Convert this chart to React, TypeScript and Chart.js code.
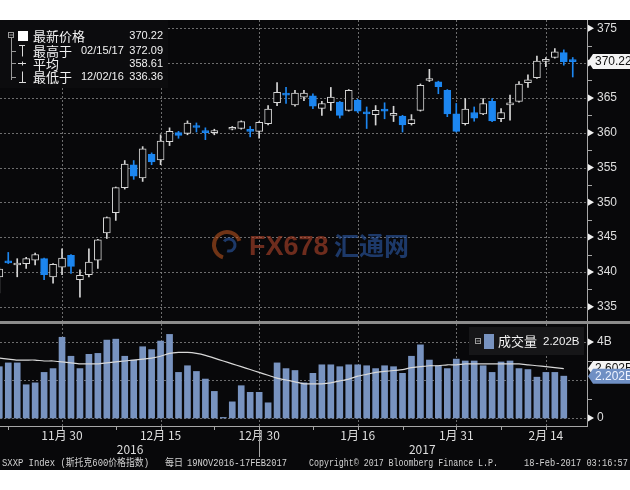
import React, { useEffect, useRef } from 'react';
import { Chart, registerables } from 'chart.js';

Chart.register(...registerables);

// ---------- data ----------
const dates = [
  '2016-11-21', '2016-11-22', '2016-11-23', '2016-11-24', '2016-11-25', '2016-11-28', '2016-11-29', '2016-11-30',
  '2016-12-01', '2016-12-02', '2016-12-05', '2016-12-06', '2016-12-07', '2016-12-08', '2016-12-09', '2016-12-12',
  '2016-12-13', '2016-12-14', '2016-12-15', '2016-12-16', '2016-12-19', '2016-12-20', '2016-12-21', '2016-12-22',
  '2016-12-23', '2016-12-26', '2016-12-27', '2016-12-28', '2016-12-29', '2016-12-30', '2017-01-02', '2017-01-03',
  '2017-01-04', '2017-01-05', '2017-01-06', '2017-01-09', '2017-01-10', '2017-01-11', '2017-01-12', '2017-01-13',
  '2017-01-16', '2017-01-17', '2017-01-18', '2017-01-19', '2017-01-20', '2017-01-23', '2017-01-24', '2017-01-25',
  '2017-01-26', '2017-01-27', '2017-01-30', '2017-01-31', '2017-02-01', '2017-02-02', '2017-02-03', '2017-02-06',
  '2017-02-07', '2017-02-08', '2017-02-09', '2017-02-10', '2017-02-13', '2017-02-14', '2017-02-15', '2017-02-16',
  '2017-02-17',
];

const openP: (number | null)[] = [
  339.3, 341.5, 341.0, 341.2, 341.7, 341.9, 339.3, 340.7, 342.4, 338.9,
  339.6, 341.7, 345.6, 348.5, 352.1, 355.4, 353.5, 356.9, 356.1, 358.7,
  360.0, 359.9, 360.9, 360.2, 360.0, null, 360.5, 360.6, 360.4, 360.2,
  361.3, 364.3, 365.6, 364.0, 365.1, 365.3, 363.5, 364.3, 364.4, 363.2,
  364.7, 362.9, 362.6, 363.4, 362.5, 362.4, 361.3, 363.2, 367.5, 367.3,
  366.1, 362.7, 361.3, 362.9, 362.7, 364.5, 362.0, 364.0, 364.5, 367.2,
  367.9, 370.25, 370.8, 371.5, 370.35,
];
const highP: (number | null)[] = [
  340.6, 342.8, 341.9, 342.1, 342.7, 342.0, 341.2, 343.3, 342.5, 340.3,
  343.3, 344.7, 347.9, 352.2, 356.0, 356.0, 358.0, 357.1, 359.7, 360.7,
  360.2, 361.7, 361.4, 360.7, 360.5, null, 360.9, 361.7, 360.9, 361.6,
  363.9, 367.2, 366.5, 366.1, 366.1, 365.6, 364.5, 366.5, 364.5, 366.2,
  364.8, 363.7, 363.9, 364.3, 363.8, 362.5, 362.6, 367.0, 369.1, 367.4,
  366.2, 364.2, 364.9, 363.7, 364.9, 364.9, 363.45, 365.4, 367.35, 368.3,
  371.0, 370.8, 372.09, 371.9, 370.8,
];
const lowP: (number | null)[] = [
  337.0, 341.2, 339.3, 340.5, 341.0, 338.9, 338.4, 339.6, 339.8, 336.36,
  339.3, 340.5, 344.8, 347.4, 351.9, 353.3, 353.0, 355.4, 355.4, 358.15,
  359.2, 359.7, 360.1, 359.0, 359.7, null, 360.4, 360.5, 359.4, 359.2,
  361.1, 363.9, 364.2, 363.8, 364.6, 363.45, 362.5, 363.2, 362.1, 363.1,
  362.9, 360.6, 361.1, 362.0, 361.6, 360.1, 361.1, 363.1, 367.35, 365.6,
  362.3, 360.1, 361.1, 361.65, 362.6, 361.6, 361.6, 361.8, 364.4, 366.5,
  367.8, 369.5, 370.7, 369.7, 368.0,
];
const closeP: (number | null)[] = [
  340.4, 341.3, 341.1, 341.9, 342.5, 339.6, 341.1, 342.0, 340.8, 339.5,
  341.4, 344.6, 347.8, 352.1, 355.5, 353.75, 357.7, 355.8, 358.8, 360.2,
  359.6, 361.4, 360.75, 360.0, 360.1, null, 360.6, 361.6, 360.2, 361.5,
  363.4, 365.8, 365.4, 365.7, 365.7, 363.8, 364.2, 365.1, 362.5, 366.1,
  363.1, 362.7, 363.2, 363.1, 362.7, 361.1, 361.9, 366.8, 367.6, 366.6,
  362.7, 360.2, 363.4, 362.1, 364.2, 361.7, 362.9, 364.1, 367.0, 367.6,
  370.3, 370.4, 371.6, 370.2, 370.22,
];

// volume in billions (no bar drawn for the last session)
const volume: (number | null)[] = [
  2.7, 2.9, 2.9, 1.75, 1.85, 2.4, 2.6, 4.25, 3.25, 2.6,
  3.35, 3.4, 4.1, 4.15, 3.25, 3.05, 3.75, 3.6, 4.05, 4.4,
  2.4, 2.75, 2.45, 2.05, 1.4, 0.03, 0.85, 1.7, 1.35, 1.35,
  0.8, 2.9, 2.6, 2.5, 1.85, 2.35, 2.8, 2.8, 2.7, 2.8,
  2.8, 2.75, 2.6, 2.75, 2.7, 2.35, 3.25, 3.85, 3.05, 2.75,
  2.6, 3.1, 3.0, 3.0, 2.75, 2.4, 2.95, 3.0, 2.6, 2.55,
  2.15, 2.4, 2.4, 2.202, null,
];
const volumeMA: (number | null)[] = [
  3.15, 3.1, 3.05, 3.05, 3.05, 3.0, 3.0, 2.95, 2.9, 2.85,
  2.85, 2.85, 2.9, 2.95, 3.0, 3.05, 3.1, 3.15, 3.25, 3.4,
  3.45, 3.45, 3.4, 3.3, 3.15, 3.0, 2.85, 2.7, 2.55, 2.4,
  2.25, 2.1, 2.0, 1.9, 1.8, 1.8, 1.8, 1.85, 1.95, 2.05,
  2.2, 2.3, 2.4, 2.45, 2.5, 2.55, 2.65, 2.7, 2.75, 2.75,
  2.8, 2.8, 2.85, 2.85, 2.85, 2.85, 2.85, 2.85, 2.85, 2.8,
  2.75, 2.7, 2.65, 2.602, null,
];

const xTickIdx = [7, 18, 29, 40, 51, 61];
const xTickLabels = ['11月 30', '12月 15', '12月 30', '1月 16', '1月 31', '2月 14'];
const xMinorIdx = [1, 13, 24, 35, 45, 56];
const yearLabels = ['2016', '2017'];
const yearPos = [14.6, 47.2];
const yearBoundaryIdx = 29;

const priceTicks = [335, 340, 345, 350, 355, 360, 365, 370, 375];
const priceMinor = [337.5, 342.5, 347.5, 352.5, 357.5, 362.5, 367.5, 372.5];
const volTicks = [0, 2, 4];
const volTickLabels = ['0', '', '4B'];
const volMinor = [1, 3];

const legendRows = [
  { name: '最新价格', date: '', value: '370.22' },
  { name: '最高于', date: '02/15/17', value: '372.09' },
  { name: '平均', date: '', value: '358.61' },
  { name: '最低于', date: '12/02/16', value: '336.36' },
];
const lastPrice = 370.22;
const lastVolume = 2.202;
const lastMA = 2.602;
const lastVolumeLabel = '2.202B';
const lastMALabel = '2.602B';
const volLegendName = '成交量';
const footerTexts = [
  'SXXP Index (斯托克600价格指数)',
  '每日',
  '19NOV2016-17FEB2017',
  'Copyright© 2017 Bloomberg Finance L.P.',
  '18-Feb-2017 03:16:57',
];

// ---------- style ----------
const X_MIN = 0.078;
const X_MAX = 65.59;
const BG = '#08080a';
const BLUE = '#1c86f0';
const UPC = '#d6d6d6';
const GRID = 'rgba(135,135,135,0.8)';
const AXIS = '#a6a6a6';
const TXT = '#dedede';
const VOLC = '#7893c0';
const CJK = '"Noto Sans CJK SC", sans-serif';
const SANS = '"Liberation Sans", Arial, sans-serif';
const MONO = '"Liberation Mono", "Noto Sans CJK SC", monospace';

function hLine(ctx: CanvasRenderingContext2D, x1: number, x2: number, y: number) {
  ctx.beginPath();
  ctx.moveTo(x1, y);
  ctx.lineTo(x2, y);
  ctx.stroke();
}
function vLine(ctx: CanvasRenderingContext2D, x: number, y1: number, y2: number) {
  ctx.beginPath();
  ctx.moveTo(x, y1);
  ctx.lineTo(x, y2);
  ctx.stroke();
}
function arrowTick(ctx: CanvasRenderingContext2D, x: number, y: number) {
  ctx.beginPath();
  ctx.moveTo(x + 1, y - 3.5);
  ctx.lineTo(x + 7, y);
  ctx.lineTo(x + 1, y + 3.5);
  ctx.closePath();
  ctx.fill();
}
function tagBox(ctx: CanvasRenderingContext2D, x: number, y: number, fill: string, textColor: string, text: string) {
  ctx.beginPath();
  ctx.moveTo(x, y);
  ctx.lineTo(x + 5, y - 7.5);
  ctx.lineTo(630, y - 7.5);
  ctx.lineTo(630, y + 7.5);
  ctx.lineTo(x + 5, y + 7.5);
  ctx.closePath();
  ctx.fillStyle = fill;
  ctx.fill();
  ctx.fillStyle = textColor;
  ctx.font = `12px ${SANS}`;
  ctx.textBaseline = 'middle';
  ctx.textAlign = 'left';
  ctx.fillText(text, x + 7, y + 0.5);
}

const pricePlugin = {
  id: 'priceDeco',
  beforeDraw(chart: any) {
    const { ctx, chartArea: a, scales } = chart;
    ctx.save();
    ctx.fillStyle = BG;
    ctx.fillRect(0, 0, chart.width, chart.height);
    ctx.strokeStyle = GRID;
    ctx.lineWidth = 1;
    ctx.setLineDash([2, 2]);
    for (const v of priceTicks) {
      const y = Math.round(scales.y.getPixelForValue(v)) + 0.5;
      hLine(ctx, a.left, a.right, y);
    }
    for (const v of xTickIdx) {
      const x = Math.round(scales.x.getPixelForValue(v)) + 0.5;
      vLine(ctx, x, a.top, a.bottom);
    }
    ctx.restore();
  },
  afterDraw(chart: any) {
    const { ctx, chartArea: a, scales } = chart;
    ctx.save();
    ctx.strokeStyle = AXIS;
    ctx.lineWidth = 1;
    vLine(ctx, a.right + 0.5, 0, chart.height);
    ctx.fillStyle = '#f0f0f0';
    for (const v of priceTicks) arrowTick(ctx, a.right, scales.y.getPixelForValue(v));
    for (const v of priceMinor) {
      const y = Math.round(scales.y.getPixelForValue(v)) + 0.5;
      hLine(ctx, a.right, a.right + 5, y);
    }
    tagBox(ctx, a.right + 1, scales.y.getPixelForValue(lastPrice), '#f4f4f4', '#111', lastPrice.toFixed(2));

    // watermark
    ctx.globalAlpha = 0.6;
    ctx.lineWidth = 4;
    ctx.strokeStyle = '#b5521e';
    ctx.beginPath();
    ctx.arc(227, 225, 13, Math.PI * 0.6, Math.PI * 1.9);
    ctx.stroke();
    ctx.strokeStyle = '#2b5aa8';
    ctx.lineWidth = 3;
    ctx.beginPath();
    ctx.arc(229, 225, 6, Math.PI * 1.2, Math.PI * 2.6);
    ctx.stroke();
    ctx.font = `bold 27px ${SANS}`;
    ctx.textBaseline = 'alphabetic';
    ctx.textAlign = 'left';
    ctx.fillStyle = '#b2452a';
    ctx.fillText('FX678', 249, 235);
    ctx.font = `bold 25px ${CJK}`;
    ctx.fillStyle = '#2b5aa8';
    ctx.fillText('汇通网', 334, 235);
    ctx.globalAlpha = 1;

    // legend box
    ctx.fillStyle = '#0c0c0e';
    ctx.fillRect(0, 0, 168, 68);
    const rowsY = [15.8, 30.5, 43.3, 56.7];
    ctx.strokeStyle = '#9a9a9a';
    ctx.lineWidth = 1;
    ctx.strokeRect(8.5, 12.5, 5, 5);
    hLine(ctx, 9.5, 13, 15);
    vLine(ctx, 11.5, 18, 60);
    for (let r = 1; r < 4; r++) hLine(ctx, 11.5, 16, Math.round(rowsY[r]) + 0.5);
    ctx.fillStyle = '#ffffff';
    ctx.fillRect(18, 11, 10, 10);
    ctx.strokeStyle = '#dcdcdc';
    const ty = Math.round(rowsY[1]) + 0.5;
    hLine(ctx, 19, 25, ty - 6);
    vLine(ctx, 22.5, ty - 6, ty + 5);
    const py = Math.round(rowsY[2]) + 0.5;
    hLine(ctx, 18, 26, py);
    vLine(ctx, 22.5, py - 2, py + 2);
    const ly = Math.round(rowsY[3]) + 0.5;
    vLine(ctx, 22.5, ly - 6, ly + 5);
    hLine(ctx, 19, 26, ly + 5);
    ctx.textBaseline = 'middle';
    legendRows.forEach((row, r) => {
      ctx.fillStyle = '#f2f2f2';
      ctx.textAlign = 'left';
      ctx.font = `13px ${CJK}`;
      ctx.fillText(row.name, 33, rowsY[r] + 0.5);
      ctx.font = `11px ${SANS}`;
      if (row.date) ctx.fillText(row.date, 81, rowsY[r] + 0.5);
      ctx.textAlign = 'right';
      ctx.fillText(row.value, 163, rowsY[r] + 0.5);
    });
    ctx.restore();
  },
};

const volPlugin = {
  id: 'volDeco',
  beforeDraw(chart: any) {
    const { ctx, chartArea: a, scales } = chart;
    ctx.save();
    ctx.fillStyle = BG;
    ctx.fillRect(0, 0, chart.width, chart.height);
    ctx.fillStyle = '#8c8c8c';
    ctx.fillRect(0, 0, chart.width, a.top);
    ctx.strokeStyle = GRID;
    ctx.lineWidth = 1;
    ctx.setLineDash([2, 2]);
    for (const v of volTicks) {
      const y = Math.round(scales.y.getPixelForValue(v)) + 0.5;
      hLine(ctx, a.left, a.right, y);
    }
    for (const v of xTickIdx) {
      const x = Math.round(scales.x.getPixelForValue(v)) + 0.5;
      vLine(ctx, x, a.top, a.bottom);
    }
    ctx.restore();
  },
  afterDraw(chart: any) {
    const { ctx, chartArea: a, scales } = chart;
    ctx.save();
    ctx.strokeStyle = AXIS;
    ctx.lineWidth = 1;
    vLine(ctx, a.right + 0.5, a.top, a.bottom + 0.5);
    hLine(ctx, 0, a.right + 1, a.bottom + 0.5);
    for (const v of [...xTickIdx, ...xMinorIdx]) {
      const x = Math.round(scales.x.getPixelForValue(v)) + 0.5;
      vLine(ctx, x, a.bottom, a.bottom + 4);
    }
    const bx = Math.round(scales.x.getPixelForValue(yearBoundaryIdx)) + 0.5;
    vLine(ctx, bx, a.bottom, a.bottom + 31);
    ctx.fillStyle = '#f0f0f0';
    for (const v of volTicks) {
      if (v === 2) continue;
      arrowTick(ctx, a.right, scales.y.getPixelForValue(v));
    }
    for (const v of volMinor) {
      const y = Math.round(scales.y.getPixelForValue(v)) + 0.5;
      hLine(ctx, a.right, a.right + 5, y);
    }
    tagBox(ctx, a.right + 1, scales.y.getPixelForValue(lastMA), '#f4f4f4', '#111', lastMALabel);
    tagBox(ctx, a.right + 1, scales.y.getPixelForValue(lastVolume), '#6f8fc4', '#eef3ff', lastVolumeLabel);

    ctx.fillStyle = TXT;
    ctx.font = `12px ${CJK}`;
    ctx.textAlign = 'center';
    ctx.textBaseline = 'middle';
    yearLabels.forEach((t, i) => ctx.fillText(t, scales.x.getPixelForValue(yearPos[i]), a.bottom + 23));

    ctx.font = `10px ${MONO}`;
    ctx.textAlign = 'left';
    ctx.fillStyle = '#d2d2d2';
    const fx = [2, 165, 187, 309, 524];
    const fw = [147, 18, 100, 189, 104];
    footerTexts.forEach((t, i) => ctx.fillText(t, fx[i], a.bottom + 37, fw[i]));

    ctx.fillStyle = '#161618';
    ctx.fillRect(469, 6, 115, 28);
    ctx.strokeStyle = '#9a9a9a';
    ctx.strokeRect(475.5, 17.5, 5, 5);
    hLine(ctx, 476.5, 480, 20);
    ctx.fillStyle = VOLC;
    ctx.fillRect(484, 13, 10, 15);
    ctx.fillStyle = '#f2f2f2';
    ctx.textAlign = 'left';
    ctx.font = `13px ${CJK}`;
    ctx.fillText(volLegendName, 498, 20.5);
    ctx.font = `11.5px ${SANS}`;
    ctx.fillText(lastVolumeLabel, 543, 20.5);
    ctx.restore();
  },
};

export default function App() {
  const priceRef = useRef<HTMLCanvasElement>(null);
  const volRef = useRef<HTMLCanvasElement>(null);

  useEffect(() => {
    const idx = dates.map((_, i) => i);
    const valid = idx.filter((i) => openP[i] != null);
    const volIdx = idx.filter((i) => volume[i] != null);
    const isUp = (i: number) => (closeP[i] as number) >= (openP[i] as number);

    const priceChart = new Chart(priceRef.current as HTMLCanvasElement, {
      type: 'bar',
      data: {
        datasets: [
          {
            label: 'body',
            data: valid.map((i) => ({ x: i, y: [openP[i], closeP[i]] })) as any,
            backgroundColor: valid.map((i) => (isUp(i) ? BG : BLUE)),
            borderColor: valid.map((i) => (isUp(i) ? UPC : BLUE)),
            borderWidth: 1,
            borderSkipped: false,
            barThickness: 7,
            minBarLength: 2,
            grouped: false,
          } as any,
          {
            label: 'wick',
            data: valid.map((i) => ({ x: i, y: [lowP[i], highP[i]] })) as any,
            backgroundColor: valid.map((i) => (isUp(i) ? UPC : BLUE)),
            borderWidth: 0,
            barThickness: 1,
            minBarLength: 1,
            grouped: false,
          } as any,
        ],
      },
      options: {
        animation: false,
        responsive: false,
        devicePixelRatio: 1,
        layout: { padding: 0 },
        plugins: { legend: { display: false }, tooltip: { enabled: false } },
        scales: {
          x: { type: 'linear', min: X_MIN, max: X_MAX, offset: false, display: false },
          y: {
            position: 'right',
            min: 332.95,
            max: 376.19,
            afterBuildTicks: (s: any) => {
              s.ticks = priceTicks.map((v) => ({ value: v }));
            },
            afterFit: (s: any) => {
              s.width = 43;
              s.paddingTop = 0;
              s.paddingBottom = 0;
            },
            ticks: { color: TXT, font: { size: 12, family: SANS }, padding: 10 },
            grid: { display: false, drawTicks: false },
            border: { display: false },
          },
        },
      } as any,
      plugins: [pricePlugin],
    });

    const volChart = new Chart(volRef.current as HTMLCanvasElement, {
      type: 'bar',
      data: {
        datasets: [
          {
            type: 'line',
            label: 'MA',
            data: idx.filter((i) => volumeMA[i] != null).map((i) => ({ x: i, y: volumeMA[i] })),
            borderColor: '#d8d8d8',
            borderWidth: 1.2,
            pointRadius: 0,
            tension: 0.2,
          } as any,
          {
            type: 'bar',
            label: '成交量',
            data: volIdx.map((i) => ({ x: i, y: volume[i] })),
            backgroundColor: VOLC,
            barThickness: 6,
            grouped: false,
          } as any,
        ],
      },
      options: {
        animation: false,
        responsive: false,
        devicePixelRatio: 1,
        layout: { padding: { top: 3 } },
        plugins: { legend: { display: false }, tooltip: { enabled: false } },
        scales: {
          x: {
            type: 'linear',
            min: X_MIN,
            max: X_MAX,
            offset: false,
            afterBuildTicks: (s: any) => {
              s.ticks = xTickIdx.map((v) => ({ value: v }));
            },
            afterFit: (s: any) => {
              s.height = 44;
              s.paddingLeft = 0;
              s.paddingRight = 0;
            },
            ticks: {
              color: TXT,
              font: { size: 12, family: CJK },
              padding: 2,
              maxRotation: 0,
              autoSkip: false,
              callback: (v: any) => {
                const k = xTickIdx.indexOf(Number(v));
                return k >= 0 ? xTickLabels[k] : '';
              },
            },
            grid: { display: false, drawTicks: false },
            border: { display: false },
          },
          y: {
            position: 'right',
            min: -0.421,
            max: 4.947,
            afterBuildTicks: (s: any) => {
              s.ticks = volTicks.map((v) => ({ value: v }));
            },
            afterFit: (s: any) => {
              s.width = 43;
              s.paddingTop = 0;
              s.paddingBottom = 0;
            },
            ticks: {
              color: TXT,
              font: { size: 12, family: SANS },
              padding: 10,
              callback: (v: any) => {
                const k = volTicks.indexOf(Number(v));
                return k >= 0 ? volTickLabels[k] : '';
              },
            },
            grid: { display: false, drawTicks: false },
            border: { display: false },
          },
        },
      } as any,
      plugins: [volPlugin],
    });

    return () => {
      priceChart.destroy();
      volChart.destroy();
    };
  }, []);

  return (
    <div style={{ position: 'fixed', left: 0, top: 0, width: 630, height: 490, background: '#ffffff', overflow: 'hidden' }}>
      <canvas ref={priceRef} width={630} height={301} style={{ position: 'absolute', left: 0, top: 20, display: 'block' }} />
      <canvas ref={volRef} width={630} height={149} style={{ position: 'absolute', left: 0, top: 321, display: 'block' }} />
    </div>
  );
}
